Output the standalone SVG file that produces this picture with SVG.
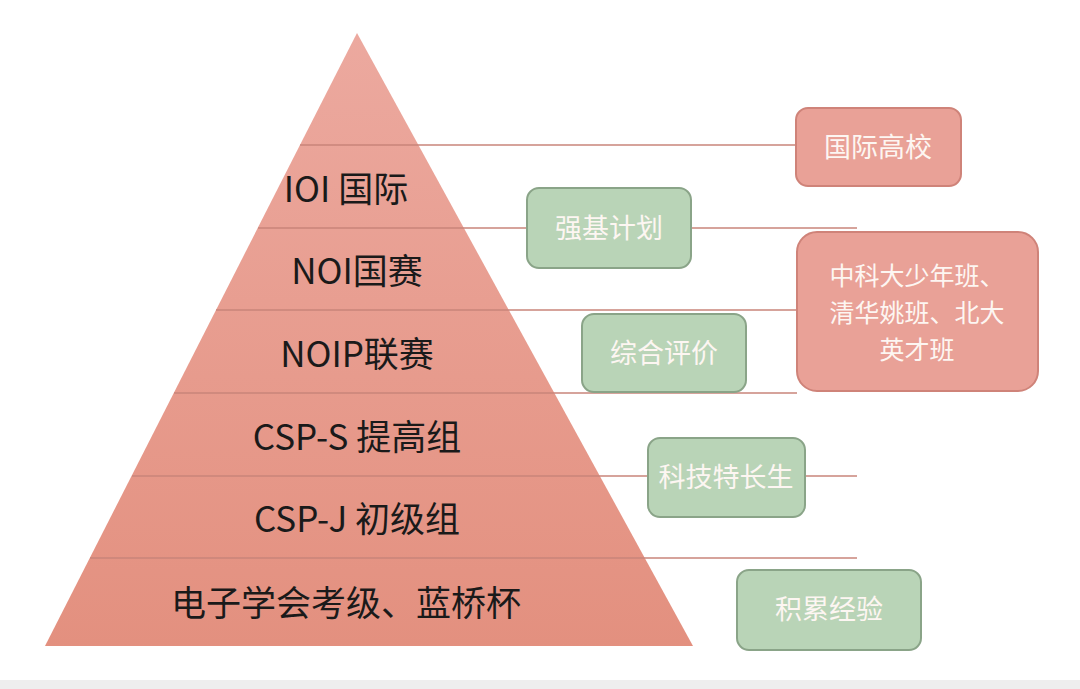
<svg xmlns="http://www.w3.org/2000/svg" width="1080" height="689" viewBox="0 0 1080 689">
<style>
.t{font-family:"Noto Sans CJK SC","Liberation Sans",sans-serif;}
.p{font-size:35px;fill:#1a1a1a;text-anchor:middle}
.b{font-size:27px;fill:#fdf6f2;text-anchor:middle}
.s{font-size:25px}
.g rect{fill:#b9d4b7;stroke:#8aa488;stroke-width:2}
.r rect{fill:#e9a197;stroke:#cf8379;stroke-width:2}
.ln{stroke:#c9847a;stroke-width:1.6;fill:none}
</style>
<defs>
<linearGradient id="pg" x1="0" y1="0" x2="0" y2="1">
<stop offset="0" stop-color="#eca99f"/><stop offset="1" stop-color="#e3907f"/>
</linearGradient>
</defs>
<rect width="1080" height="689" fill="#fff"/>
<rect y="680" width="1080" height="9" fill="#eeeeee"/>
<g id="pyramid">
<polygon points="357,33 45,646 693,646" fill="url(#pg)"/>
</g>
<g id="connectors" class="ln">
<line x1="300" y1="145" x2="796" y2="145"/>
<line x1="258" y1="228" x2="857" y2="228"/>
<line x1="216" y1="310" x2="797" y2="310"/>
<line x1="174" y1="393" x2="797" y2="393"/>
<line x1="132" y1="476" x2="857" y2="476"/>
<line x1="90" y1="558" x2="857" y2="558"/>
</g>
<g class="t p">
<text x="346" y="202">IOI 国际</text>
<text x="357" y="284">NOI国赛</text>
<text x="357" y="367">NOIP联赛</text>
<text x="357" y="450">CSP-S 提高组</text>
<text x="357" y="532">CSP-J 初级组</text>
<text x="346" y="616">电子学会考级、蓝桥杯</text>
</g>
<g id="n1" class="r"><rect x="796" y="108" width="165" height="78" rx="12"/><text class="t b" x="878" y="157">国际高校</text></g>
<g id="n2" class="g"><rect x="527" y="188" width="164" height="80" rx="12"/><text class="t b" x="609" y="238">强基计划</text></g>
<g id="n3" class="r"><rect x="797" y="232" width="241" height="159" rx="20"/>
<text class="t b s" x="917" y="285">中科大少年班、</text><text class="t b s" x="917" y="322">清华姚班、北大</text><text class="t b s" x="917" y="359">英才班</text></g>
<g id="n4" class="g"><rect x="582" y="314" width="164" height="78" rx="12"/><text class="t b" x="664" y="363">综合评价</text></g>
<g id="n5" class="g"><rect x="648" y="438" width="157" height="79" rx="12"/><text class="t b" x="726" y="487">科技特长生</text></g>
<g id="n6" class="g"><rect x="737" y="570" width="184" height="80" rx="12"/><text class="t b" x="829" y="619">积累经验</text></g>
</svg>
